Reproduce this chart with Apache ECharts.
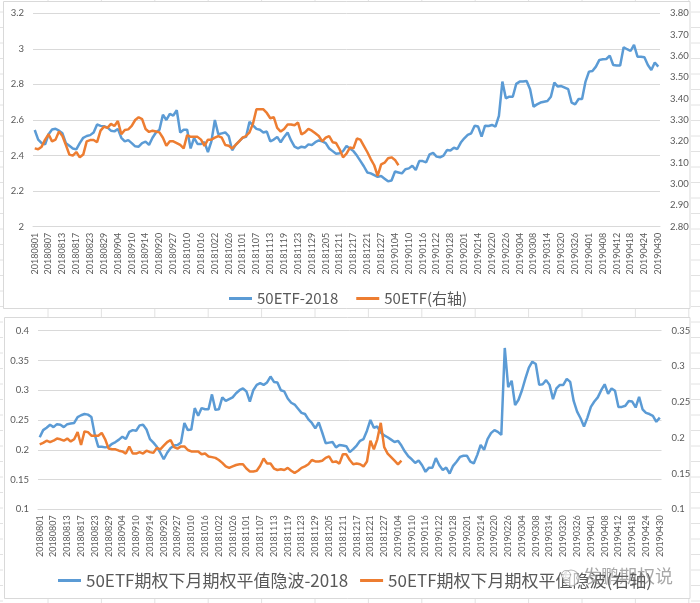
<!DOCTYPE html>
<html><head><meta charset="utf-8">
<script src="https://cdn.jsdelivr.net/npm/echarts@6/dist/echarts.min.js"></script>
<style>html,body{margin:0;padding:0;background:#fff}#c{width:700px;height:603px}</style>
</head><body><div id="c"></div>
<script>
const dates = [
'20180801','20180802','20180803','20180806','20180807','20180808','20180809','20180810','20180813','20180814',
'20180815','20180816','20180817','20180820','20180821','20180822','20180823','20180824','20180827','20180828',
'20180829','20180830','20180831','20180903','20180904','20180905','20180906','20180907','20180910','20180911',
'20180912','20180913','20180914','20180917','20180918','20180919','20180920','20180921','20180925','20180926',
'20180927','20180928','20181008','20181009','20181010','20181011','20181012','20181015','20181016','20181017',
'20181018','20181019','20181022','20181023','20181024','20181025','20181026','20181029','20181030','20181031',
'20181101','20181102','20181105','20181106','20181107','20181108','20181109','20181112','20181113','20181114',
'20181115','20181116','20181119','20181120','20181121','20181122','20181123','20181126','20181127','20181128',
'20181129','20181130','20181203','20181204','20181205','20181206','20181207','20181210','20181211','20181212',
'20181213','20181214','20181217','20181218','20181219','20181220','20181221','20181224','20181225','20181226',
'20181227','20181228','20190102','20190103','20190104','20190107','20190108','20190109','20190110','20190111',
'20190114','20190115','20190116','20190117','20190118','20190121','20190122','20190123','20190124','20190125',
'20190128','20190129','20190130','20190131','20190201','20190211','20190212','20190213','20190214','20190215',
'20190218','20190219','20190220','20190221','20190222','20190225','20190226','20190227','20190228','20190301',
'20190304','20190305','20190306','20190307','20190308','20190311','20190312','20190313','20190314','20190315',
'20190318','20190319','20190320','20190321','20190322','20190325','20190326','20190327','20190328','20190329',
'20190401','20190402','20190403','20190404','20190408','20190409','20190410','20190411','20190412','20190415',
'20190416','20190417','20190418','20190419','20190422','20190423','20190424','20190425','20190426','20190429',
'20190430'];

const etf2018 = [
2.544,2.49,2.47,2.463,2.52,2.547,2.551,2.54,2.525,2.47,
2.455,2.44,2.435,2.47,2.50,2.51,2.515,2.53,2.575,2.567,
2.565,2.557,2.54,2.536,2.55,2.50,2.48,2.487,2.47,2.452,
2.45,2.47,2.478,2.46,2.50,2.53,2.545,2.63,2.60,2.635,
2.625,2.655,2.53,2.545,2.545,2.44,2.50,2.465,2.465,2.475,
2.42,2.48,2.60,2.52,2.525,2.53,2.51,2.43,2.46,2.48,
2.50,2.505,2.59,2.57,2.55,2.545,2.53,2.535,2.48,2.49,
2.505,2.475,2.505,2.53,2.485,2.45,2.44,2.45,2.445,2.463,
2.46,2.475,2.485,2.48,2.47,2.44,2.425,2.41,2.413,2.425,
2.454,2.44,2.425,2.40,2.37,2.34,2.305,2.30,2.29,2.28,
2.285,2.27,2.255,2.26,2.31,2.305,2.30,2.323,2.328,2.343,
2.319,2.369,2.369,2.362,2.407,2.415,2.394,2.39,2.40,2.431,
2.428,2.444,2.437,2.473,2.497,2.516,2.525,2.568,2.563,2.506,
2.568,2.566,2.572,2.563,2.623,2.816,2.722,2.731,2.731,2.803,
2.816,2.816,2.819,2.773,2.675,2.688,2.698,2.703,2.707,2.731,
2.81,2.788,2.791,2.782,2.773,2.698,2.688,2.718,2.718,2.816,
2.872,2.876,2.90,2.938,2.941,2.943,2.962,2.909,2.906,2.906,
3.009,2.998,2.988,3.022,2.956,2.956,2.953,2.909,2.881,2.923,
2.90];

const etfRight = [
3.167,3.163,3.175,3.208,3.233,3.20,3.208,3.246,3.225,3.183,
3.138,3.133,3.15,3.125,3.138,3.20,3.206,3.206,3.196,3.25,
3.269,3.263,3.282,3.272,3.295,3.233,3.253,3.256,3.272,3.30,
3.313,3.304,3.258,3.244,3.25,3.246,3.242,3.217,3.179,3.20,
3.20,3.192,3.183,3.167,3.229,3.221,3.221,3.221,3.208,3.179,
3.208,3.208,3.217,3.225,3.217,3.183,3.179,3.167,3.183,3.20,
3.217,3.225,3.242,3.283,3.35,3.35,3.35,3.333,3.308,3.313,
3.263,3.246,3.258,3.279,3.279,3.275,3.288,3.233,3.242,3.258,
3.25,3.238,3.225,3.20,3.217,3.225,3.196,3.192,3.163,3.125,
3.142,3.171,3.167,3.213,3.208,3.179,3.15,3.117,3.088,3.038,
3.092,3.10,3.121,3.125,3.113,3.088];

const iv2018 = [
0.221,0.233,0.237,0.242,0.238,0.243,0.242,0.238,0.243,0.244,
0.245,0.255,0.258,0.26,0.259,0.255,0.225,0.205,0.205,0.204,
0.205,0.21,0.213,0.217,0.222,0.218,0.23,0.233,0.232,0.241,
0.242,0.234,0.218,0.212,0.205,0.195,0.184,0.195,0.203,0.207,
0.208,0.212,0.245,0.233,0.234,0.27,0.257,0.27,0.268,0.268,
0.293,0.267,0.268,0.288,0.282,0.285,0.288,0.295,0.30,0.303,
0.298,0.281,0.30,0.309,0.312,0.309,0.313,0.323,0.314,0.313,
0.30,0.298,0.286,0.279,0.276,0.269,0.262,0.26,0.251,0.245,
0.236,0.246,0.229,0.211,0.212,0.213,0.204,0.208,0.207,0.206,
0.196,0.201,0.207,0.215,0.218,0.232,0.25,0.237,0.239,0.229,
0.224,0.221,0.217,0.213,0.215,0.207,0.197,0.189,0.184,0.178,
0.182,0.174,0.163,0.17,0.17,0.186,0.174,0.166,0.17,0.16,
0.173,0.18,0.188,0.19,0.19,0.18,0.177,0.191,0.208,0.2,
0.218,0.228,0.233,0.23,0.225,0.371,0.305,0.316,0.275,0.284,
0.30,0.32,0.338,0.348,0.344,0.309,0.31,0.317,0.309,0.285,
0.303,0.309,0.309,0.319,0.314,0.282,0.264,0.253,0.239,0.254,
0.272,0.281,0.288,0.30,0.31,0.294,0.303,0.299,0.272,0.272,
0.274,0.282,0.281,0.271,0.289,0.268,0.262,0.26,0.257,0.247,
0.254];

const ivRight = [
0.191,0.193,0.196,0.194,0.196,0.199,0.198,0.196,0.199,0.195,
0.198,0.208,0.190,0.209,0.208,0.203,0.203,0.203,0.207,0.198,
0.185,0.184,0.184,0.182,0.181,0.178,0.188,0.178,0.178,0.180,
0.178,0.182,0.180,0.179,0.186,0.184,0.189,0.194,0.197,0.187,
0.185,0.188,0.188,0.183,0.181,0.181,0.181,0.177,0.178,0.174,
0.173,0.172,0.169,0.165,0.160,0.158,0.160,0.162,0.163,0.163,
0.157,0.153,0.153,0.154,0.161,0.171,0.164,0.164,0.157,0.155,
0.156,0.155,0.158,0.154,0.151,0.154,0.158,0.160,0.163,0.169,
0.167,0.167,0.168,0.172,0.174,0.166,0.167,0.164,0.177,0.177,
0.169,0.163,0.164,0.163,0.160,0.167,0.196,0.184,0.198,0.221,
0.187,0.178,0.173,0.168,0.163,0.168];

const topNames = ['50ETF-2018', '50ETF(右轴)'];
const bottomNames = ['50ETF期权下月期权平值隐波-2018', '50ETF期权下月期权平值隐波(右轴)'];
const topLeftTicks = {min: 2, max: 3.2, interval: 0.2};
const topRightTicks = {min: 2.8, max: 3.8, interval: 0.1};
const botLeftTicks = {min: 0.1, max: 0.4, interval: 0.05};
const botRightTicks = {min: 0.1, max: 0.35, interval: 0.05};

const BLUE = '#5B9BD5', ORANGE = '#ED7D31', TXT = '#595959', GRID = '#d9d9d9';
const NUMFONT = 'Lato, "Noto Sans", sans-serif';
const CJK = '"Noto Sans CJK SC", "Noto Sans", sans-serif';

function xAxis(gi) {
  return {
    type: 'category', gridIndex: gi, data: dates, boundaryGap: true,
    axisTick: {show: false},
    axisLine: {show: true, lineStyle: {color: GRID, width: 1}},
    axisLabel: {interval: 3, rotate: 90, fontSize: 9, color: TXT, fontFamily: NUMFONT, margin: 6}
  };
}
function yAxis(gi, t, right, fmt) {
  return {
    type: 'value', gridIndex: gi, position: right ? 'right' : 'left',
    min: t.min, max: t.max, interval: t.interval,
    axisLine: {show: false}, axisTick: {show: false},
    axisLabel: {fontSize: 9.5, color: TXT, fontFamily: NUMFONT, margin: right ? 10 : 9, formatter: fmt},
    splitLine: {show: !right, lineStyle: {color: GRID, width: 1}}
  };
}

// spreadsheet-like background lines and chart frames
const gfx = [];
const sheet = '#e2e2e2';
for (let x = 48; x < 700; x += 53.4) {
  gfx.push({type: 'line', shape: {x1: x, y1: 309, x2: x, y2: 317}, style: {stroke: sheet, lineWidth: 1}, silent: true});
  gfx.push({type: 'line', shape: {x1: x, y1: 599, x2: x, y2: 603}, style: {stroke: sheet, lineWidth: 1}, silent: true});
  gfx.push({type: 'line', shape: {x1: x, y1: 0, x2: x, y2: 1}, style: {stroke: sheet, lineWidth: 1}, silent: true});
}
for (let y = 12; y < 603; y += 15.5) {
  gfx.push({type: 'line', shape: {x1: 0, y1: y, x2: 3, y2: y}, style: {stroke: sheet, lineWidth: 1}, silent: true});
  gfx.push({type: 'line', shape: {x1: 691, y1: y, x2: 700, y2: y}, style: {stroke: sheet, lineWidth: 1}, silent: true});
}
gfx.push({type: 'rect', shape: {x: 3.5, y: 1.5, width: 686.5, height: 307}, style: {fill: null, stroke: GRID, lineWidth: 1}, silent: true});
gfx.push({type: 'rect', shape: {x: 4.5, y: 317.5, width: 685.5, height: 281}, style: {fill: null, stroke: GRID, lineWidth: 1}, silent: true});
// watermark
gfx.push({type: 'circle', shape: {cx: 571, cy: 578, r: 8}, style: {fill: 'rgba(255,255,255,0.6)', stroke: 'rgba(150,150,150,0.7)', lineWidth: 1.2}, z: 100, silent: true});
gfx.push({type: 'circle', shape: {cx: 566, cy: 575, r: 4.5}, style: {fill: 'rgba(255,255,255,0.6)', stroke: 'rgba(150,150,150,0.7)', lineWidth: 1}, z: 101, silent: true});
gfx.push({type: 'text', left: 583, top: 567, style: {text: '发鹏期权说', fill: 'rgba(110,110,110,0.6)', font: '18px "Noto Sans CJK SC", sans-serif'}, z: 100, silent: true});

const chart = echarts.init(document.getElementById('c'), null, {renderer: 'canvas'});
chart.setOption({
  backgroundColor: '#ffffff',
  animation: false,
  grid: [
    {left: 33, right: 40, top: 13.3, height: 213.4},
    {left: 38, right: 38.5, top: 330.7, height: 178.6}
  ],
  xAxis: [xAxis(0), xAxis(1)],
  yAxis: [
    yAxis(0, topLeftTicks, false),
    yAxis(0, topRightTicks, true, v => v.toFixed(2)),
    yAxis(1, botLeftTicks, false),
    yAxis(1, botRightTicks, true)
  ],
  legend: [
    {data: topNames, left: 224, top: 286, icon: 'rect', itemWidth: 23, itemHeight: 3, itemGap: 18,
     textStyle: {fontSize: 15, color: TXT, fontFamily: CJK}},
    {data: bottomNames, left: 53, top: 567, icon: 'rect', itemWidth: 23, itemHeight: 3, itemGap: 12,
     textStyle: {fontSize: 17, color: TXT, fontFamily: CJK}}
  ],
  series: [
    {name: topNames[0], type: 'line', xAxisIndex: 0, yAxisIndex: 0, data: etf2018, showSymbol: false, lineStyle: {color: BLUE, width: 2.5}, itemStyle: {color: BLUE}, z: 3},
    {name: topNames[1], type: 'line', xAxisIndex: 0, yAxisIndex: 1, data: etfRight, showSymbol: false, lineStyle: {color: ORANGE, width: 2.5}, itemStyle: {color: ORANGE}, z: 4},
    {name: bottomNames[0], type: 'line', xAxisIndex: 1, yAxisIndex: 2, data: iv2018, showSymbol: false, lineStyle: {color: BLUE, width: 2.5}, itemStyle: {color: BLUE}, z: 3},
    {name: bottomNames[1], type: 'line', xAxisIndex: 1, yAxisIndex: 3, data: ivRight, showSymbol: false, lineStyle: {color: ORANGE, width: 2.5}, itemStyle: {color: ORANGE}, z: 4}
  ],
  graphic: gfx
});
</script></body></html>
